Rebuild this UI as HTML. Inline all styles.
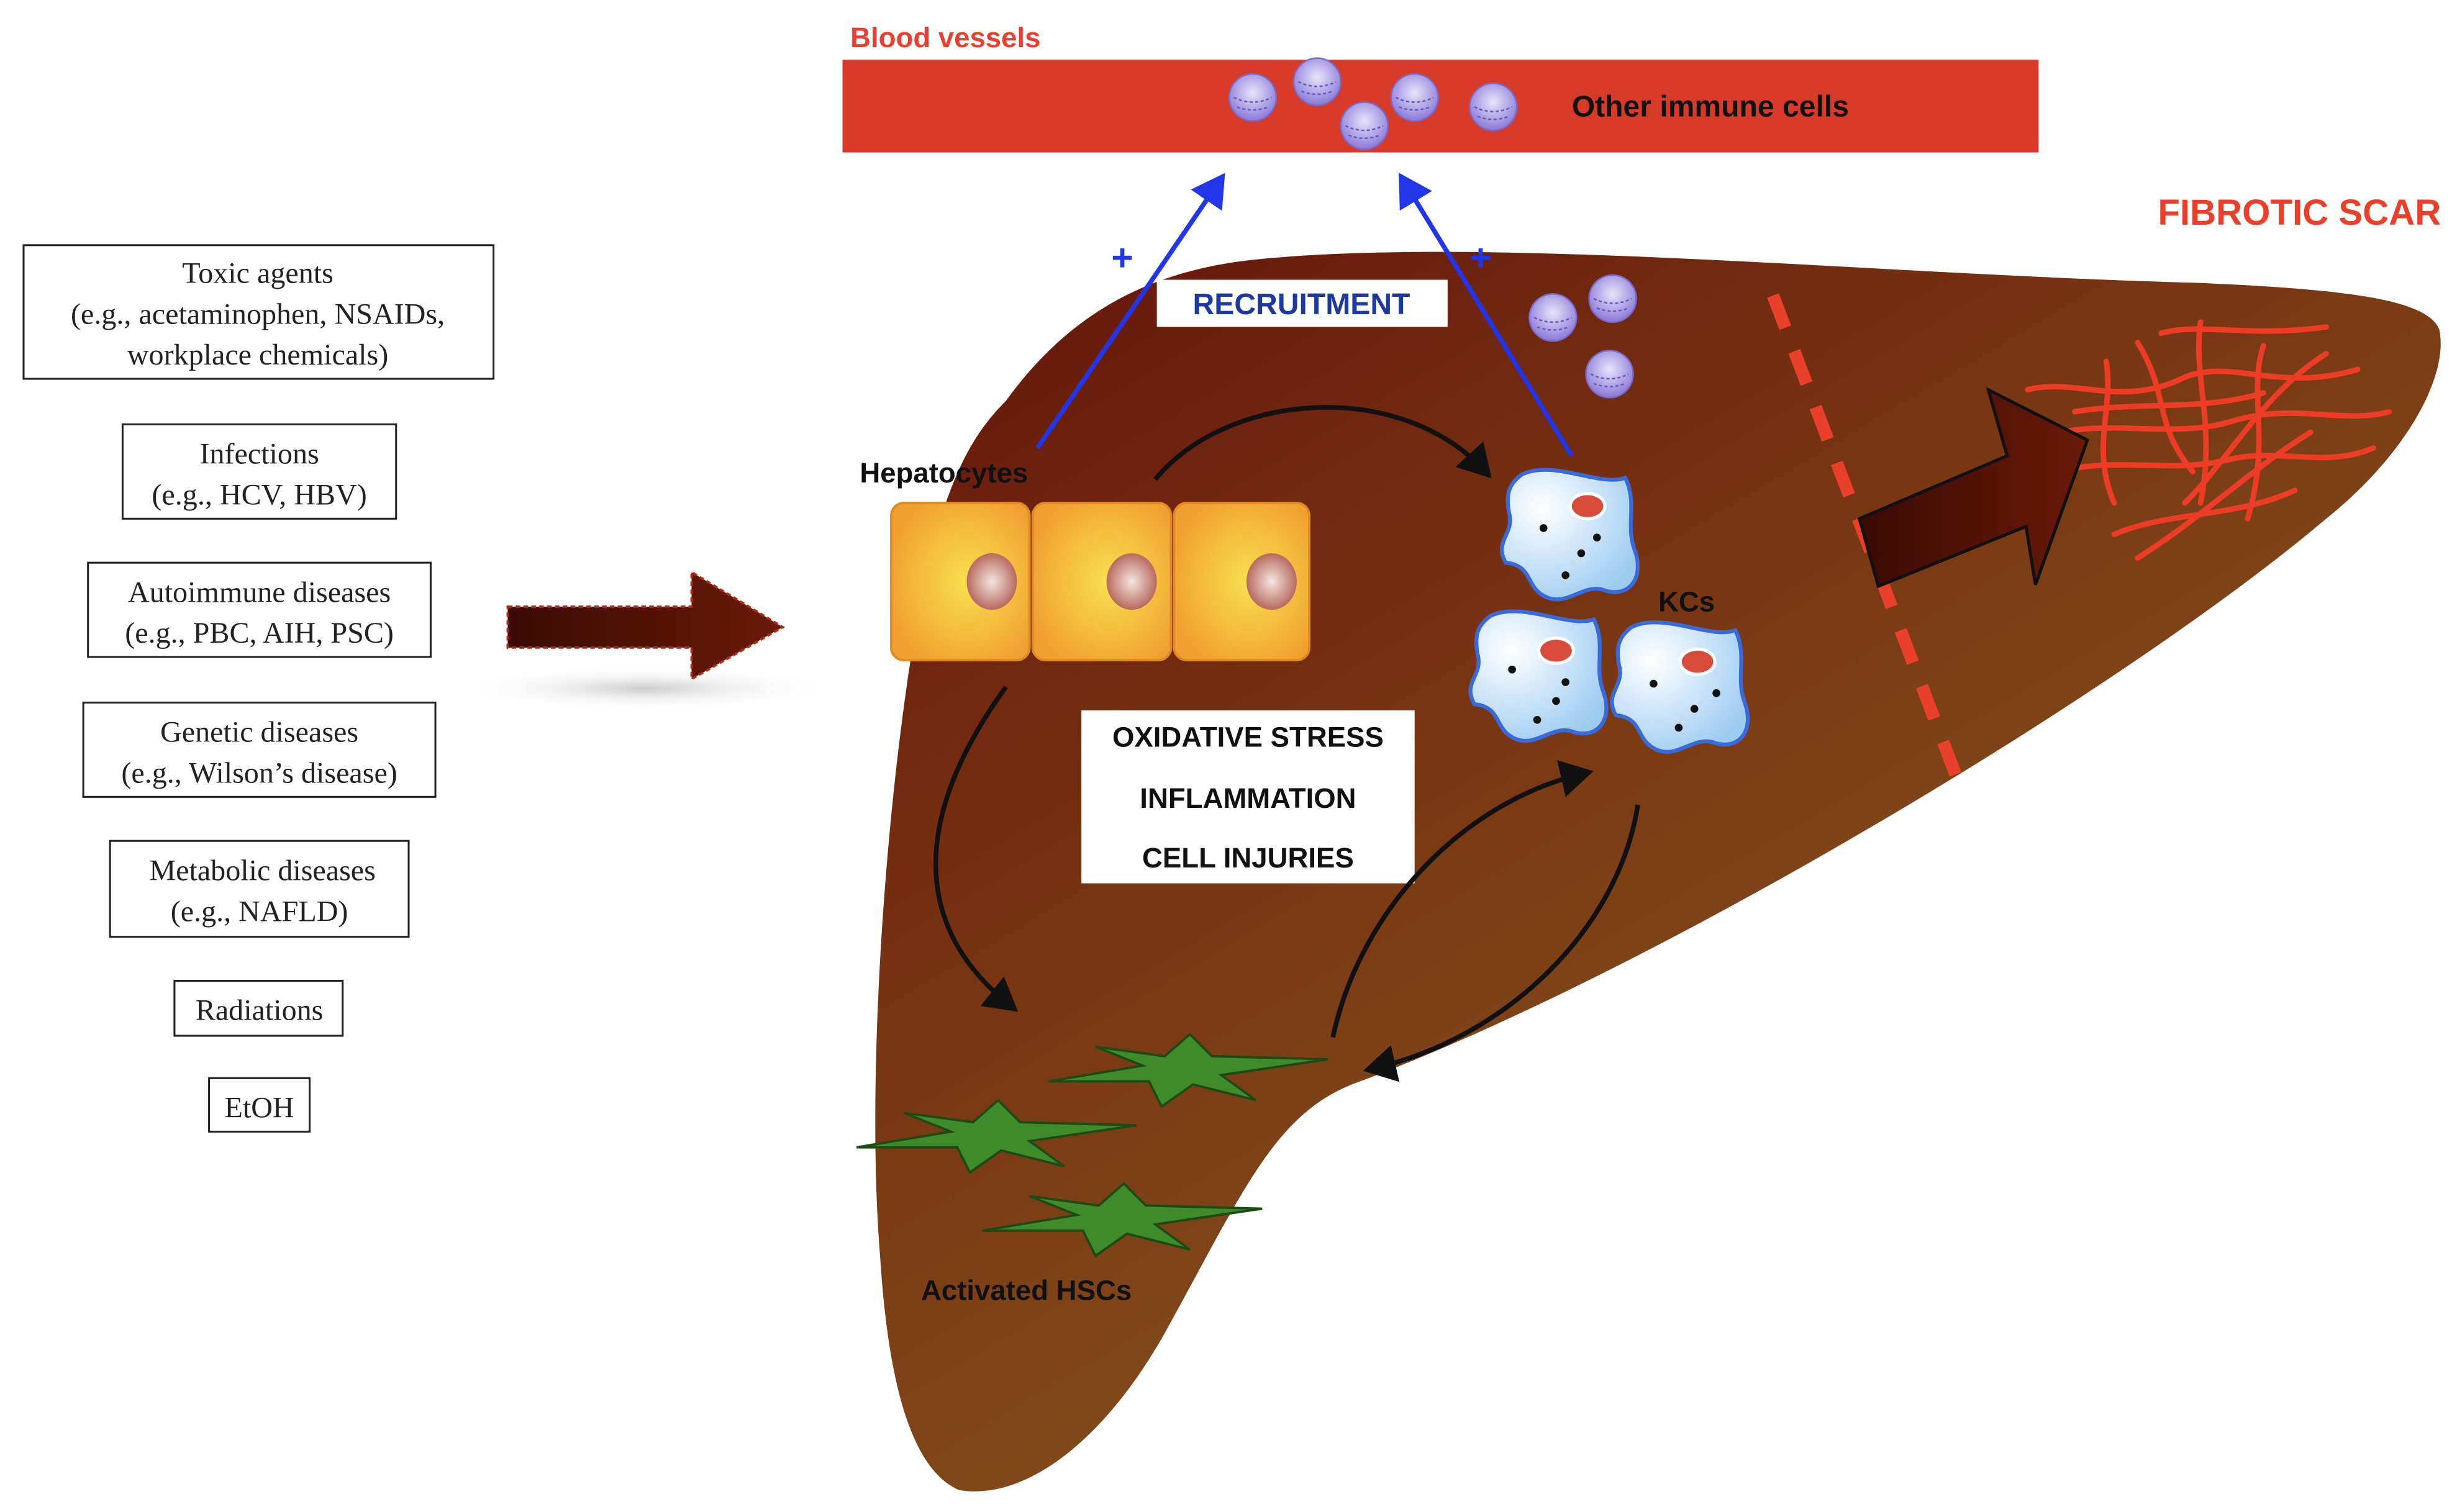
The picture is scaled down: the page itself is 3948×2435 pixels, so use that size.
<!DOCTYPE html>
<html><head><meta charset="utf-8"><style>
html,body{margin:0;padding:0;background:#fff;}
svg{display:block;}
.serif{font-family:"Liberation Serif",serif;font-size:19px;fill:#222;}
.bold{font-family:"Liberation Sans",sans-serif;font-weight:bold;}
</style></head><body>
<svg width="3948" height="2435" viewBox="0 0 1560 962" preserveAspectRatio="none" xmlns="http://www.w3.org/2000/svg">
<defs>
<linearGradient id="liver" x1="0.1" y1="0.1" x2="0.7" y2="0.9">
<stop offset="0" stop-color="#6a1c0c"/><stop offset="0.45" stop-color="#7a3a14"/><stop offset="1" stop-color="#875820"/>
</linearGradient>
<radialGradient id="hep" cx="0.55" cy="0.5" r="0.6"><stop offset="0" stop-color="#f8e050"/><stop offset="1" stop-color="#f0a030"/></radialGradient>
<radialGradient id="nuc" cx="0.5" cy="0.5" r="0.5"><stop offset="0" stop-color="#f4e6e0"/><stop offset="1" stop-color="#b86a60"/></radialGradient>
<radialGradient id="kc" cx="0.3" cy="0.3" r="0.8"><stop offset="0" stop-color="#ffffff"/><stop offset="1" stop-color="#9ccbf0"/></radialGradient>
<radialGradient id="imm" cx="0.5" cy="0.4" r="0.6"><stop offset="0" stop-color="#e8e4fa"/><stop offset="1" stop-color="#8a78d8"/></radialGradient>
<linearGradient id="darr" x1="0" y1="0" x2="1" y2="0"><stop offset="0" stop-color="#3a0a04"/><stop offset="1" stop-color="#6a1a08"/></linearGradient>
<radialGradient id="shadow" cx="0.5" cy="0.5" r="0.5"><stop offset="0" stop-color="#ccc"/><stop offset="1" stop-color="#fff" stop-opacity="0"/></radialGradient>
<marker id="ah" markerWidth="8" markerHeight="8" refX="5" refY="4" orient="auto" markerUnits="strokeWidth"><path d="M0,0 L7,4 L0,8 Z" fill="#111"/></marker>
<marker id="bh" markerWidth="8" markerHeight="8" refX="5" refY="4" orient="auto" markerUnits="strokeWidth"><path d="M0,0 L7,4 L0,8 Z" fill="#2236e8"/></marker>
<g id="star"><polygon points="0,-22 14,-8 88,-6 20,4 42,20 2,10 -18,24 -26,8 -90,8 -30,-2 -60,-14 -16,-8" fill="#3f8a2a" stroke="#1e4a14" stroke-width="1.5"/></g>
<g id="kcb"><path d="M-30,-38 C-10,-48 20,-30 36,-36 C44,-20 36,-6 42,10 C48,26 40,40 24,36 C10,30 0,46 -14,40 C-28,34 -22,20 -40,18 C-48,4 -34,0 -38,-14 C-40,-26 -38,-32 -30,-38Z" fill="url(#kc)" stroke="#3a6ad8" stroke-width="2.5"/></g>
<g id="ic"><circle r="15" fill="url(#imm)" stroke="#7a6ac8" stroke-width="1"/><path d="M-12,0 Q0,6 12,0 M-10,6 Q0,10 10,6" stroke="#6a58c0" fill="none" stroke-width="1" stroke-dasharray="2,1.5"/></g>
</defs>

<rect x="536" y="38" width="761" height="59" fill="#d83a2a"/>
<text x="541" y="30" class="bold" font-size="18" fill="#e84030">Blood vessels</text>
<text x="1000" y="74" class="bold" font-size="19" fill="#111">Other immune cells</text>
<use href="#ic" x="797" y="62"/><use href="#ic" x="838" y="52"/><use href="#ic" x="900" y="62"/><use href="#ic" x="868" y="80"/><use href="#ic" x="950" y="68"/>

<path d="M640,255 C680,200 730,172 800,165 C950,150 1200,175 1400,180 C1490,184 1545,190 1552,210 C1558,240 1530,290 1480,330 C1350,440 1050,620 860,690 C810,710 790,760 740,850 C700,920 650,955 610,948 C580,935 565,880 560,800 C550,680 565,480 590,360 C605,300 620,275 640,255Z" fill="url(#liver)"/>

<ellipse cx="410" cy="438" rx="120" ry="14" fill="url(#shadow)"/>
<path d="M323,386 L440,386 L440,364 L498,399 L440,432 L440,412 L323,412Z" fill="url(#darr)" stroke="#b02a10" stroke-width="1.5" stroke-dasharray="3,2"/>

<g fill="#fff" stroke="#222" stroke-width="1.2">
<rect x="15" y="156" width="299" height="85"/><rect x="78" y="270" width="174" height="60"/><rect x="56" y="358" width="218" height="60"/><rect x="53" y="447" width="224" height="60"/><rect x="70" y="535" width="190" height="61"/><rect x="111" y="624" width="107" height="35"/><rect x="133" y="686" width="64" height="34"/>
</g>
<g class="serif" text-anchor="middle">
<text x="164" y="180">Toxic agents</text><text x="164" y="206">(e.g., acetaminophen, NSAIDs,</text><text x="164" y="232">workplace chemicals)</text>
<text x="165" y="295">Infections</text><text x="165" y="321">(e.g., HCV, HBV)</text>
<text x="165" y="383">Autoimmune diseases</text><text x="165" y="409">(e.g., PBC, AIH, PSC)</text>
<text x="165" y="472">Genetic diseases</text><text x="165" y="498">(e.g., Wilson’s disease)</text>
<text x="167" y="560">Metabolic diseases</text><text x="165" y="586">(e.g., NAFLD)</text>
<text x="165" y="649">Radiations</text><text x="165" y="711">EtOH</text>
</g>

<line x1="1128" y1="188" x2="1245" y2="495" stroke="#e8402a" stroke-width="8" stroke-dasharray="22,16"/>
<g stroke="#ec3c26" stroke-width="3.5" fill="none" stroke-linecap="round">
<path d="M1375,212 C1400,205 1430,215 1480,208"/><path d="M1290,248 C1320,240 1350,260 1390,240 C1420,228 1450,250 1500,235"/>
<path d="M1300,278 C1340,265 1380,280 1420,268 C1460,256 1490,270 1520,262"/><path d="M1310,300 C1350,290 1380,302 1420,292 C1450,285 1480,298 1510,285"/>
<path d="M1345,340 C1380,325 1420,330 1460,312"/><path d="M1360,355 C1400,330 1430,300 1470,275"/><path d="M1390,320 C1420,290 1440,250 1480,225"/>
<path d="M1400,205 C1395,240 1410,270 1400,320"/><path d="M1340,230 C1345,260 1330,285 1345,320"/><path d="M1440,220 C1430,250 1445,280 1430,330"/>
<path d="M1320,262 C1360,255 1400,262 1440,250"/><path d="M1360,218 C1380,250 1370,270 1395,300"/>
</g>
<path d="M1183,330 L1277,290 L1265,248 L1328,280 L1295,372 L1289,335 L1195,373Z" fill="url(#darr)" stroke="#111" stroke-width="2"/>
<text x="1553" y="143" class="bold" font-size="23" fill="#e8402a" text-anchor="end">FIBROTIC SCAR</text>

<line x1="660" y1="285" x2="776" y2="115" stroke="#2236e8" stroke-width="3" marker-end="url(#bh)"/>
<line x1="1000" y1="290" x2="893" y2="115" stroke="#2236e8" stroke-width="3" marker-end="url(#bh)"/>
<text x="714" y="172" class="bold" font-size="24" fill="#2236e8" text-anchor="middle">+</text>
<text x="942" y="172" class="bold" font-size="24" fill="#2236e8" text-anchor="middle">+</text>
<rect x="736" y="178" width="185" height="30" fill="#fff"/>
<text x="828" y="200" class="bold" font-size="19" fill="#1a3aa0" text-anchor="middle">RECRUITMENT</text>
<use href="#ic" x="988" y="202"/><use href="#ic" x="1026" y="190"/><use href="#ic" x="1024" y="238"/>

<g stroke="#e08a20" stroke-width="1.5">
<rect x="567" y="320" width="88" height="100" rx="8" fill="url(#hep)"/><rect x="657" y="320" width="88" height="100" rx="8" fill="url(#hep)"/><rect x="747" y="320" width="86" height="100" rx="8" fill="url(#hep)"/>
</g>
<ellipse cx="631" cy="370" rx="16" ry="18" fill="url(#nuc)"/><ellipse cx="720" cy="370" rx="16" ry="18" fill="url(#nuc)"/><ellipse cx="809" cy="370" rx="16" ry="18" fill="url(#nuc)"/>
<text x="547" y="307" class="bold" font-size="18" fill="#111">Hepatocytes</text>

<g transform="translate(998,340)"><use href="#kcb"/><ellipse cx="12" cy="-18" rx="11" ry="8" fill="#d84a3a" stroke="#fff" stroke-width="2"/><g fill="#111"><circle cx="-16" cy="-4" r="2.5"/><circle cx="18" cy="2" r="2.5"/><circle cx="8" cy="12" r="2.5"/><circle cx="-2" cy="26" r="2.5"/></g></g>
<g transform="translate(978,430)"><use href="#kcb"/><ellipse cx="12" cy="-16" rx="11" ry="8" fill="#d84a3a" stroke="#fff" stroke-width="2"/><g fill="#111"><circle cx="-16" cy="-4" r="2.5"/><circle cx="18" cy="4" r="2.5"/><circle cx="12" cy="16" r="2.5"/><circle cx="0" cy="28" r="2.5"/></g></g>
<g transform="translate(1068,437)"><use href="#kcb"/><ellipse cx="12" cy="-16" rx="11" ry="8" fill="#d84a3a" stroke="#fff" stroke-width="2"/><g fill="#111"><circle cx="-16" cy="-2" r="2.5"/><circle cx="24" cy="4" r="2.5"/><circle cx="10" cy="14" r="2.5"/><circle cx="0" cy="26" r="2.5"/></g></g>
<text x="1055" y="389" class="bold" font-size="18" fill="#111">KCs</text>

<rect x="688" y="452" width="212" height="110" fill="#fff"/>
<g class="bold" font-size="18" fill="#111" text-anchor="middle">
<text x="794" y="475">OXIDATIVE STRESS</text><text x="794" y="514">INFLAMMATION</text><text x="794" y="552">CELL INJURIES</text>
</g>

<g stroke="#111" stroke-width="3" fill="none">
<path d="M735,305 C780,250 890,240 945,300" marker-end="url(#ah)"/>
<path d="M640,437 C580,520 580,590 643,640" marker-end="url(#ah)"/>
<path d="M848,660 C865,580 930,510 1008,492" marker-end="url(#ah)"/>
<path d="M1042,512 C1030,590 960,660 873,680" marker-end="url(#ah)"/>
</g>

<use href="#star" x="757" y="680"/><use href="#star" x="635" y="722"/><use href="#star" x="715" y="775"/>
<text x="586" y="827" class="bold" font-size="18" fill="#111">Activated HSCs</text>
</svg>
</body></html>
